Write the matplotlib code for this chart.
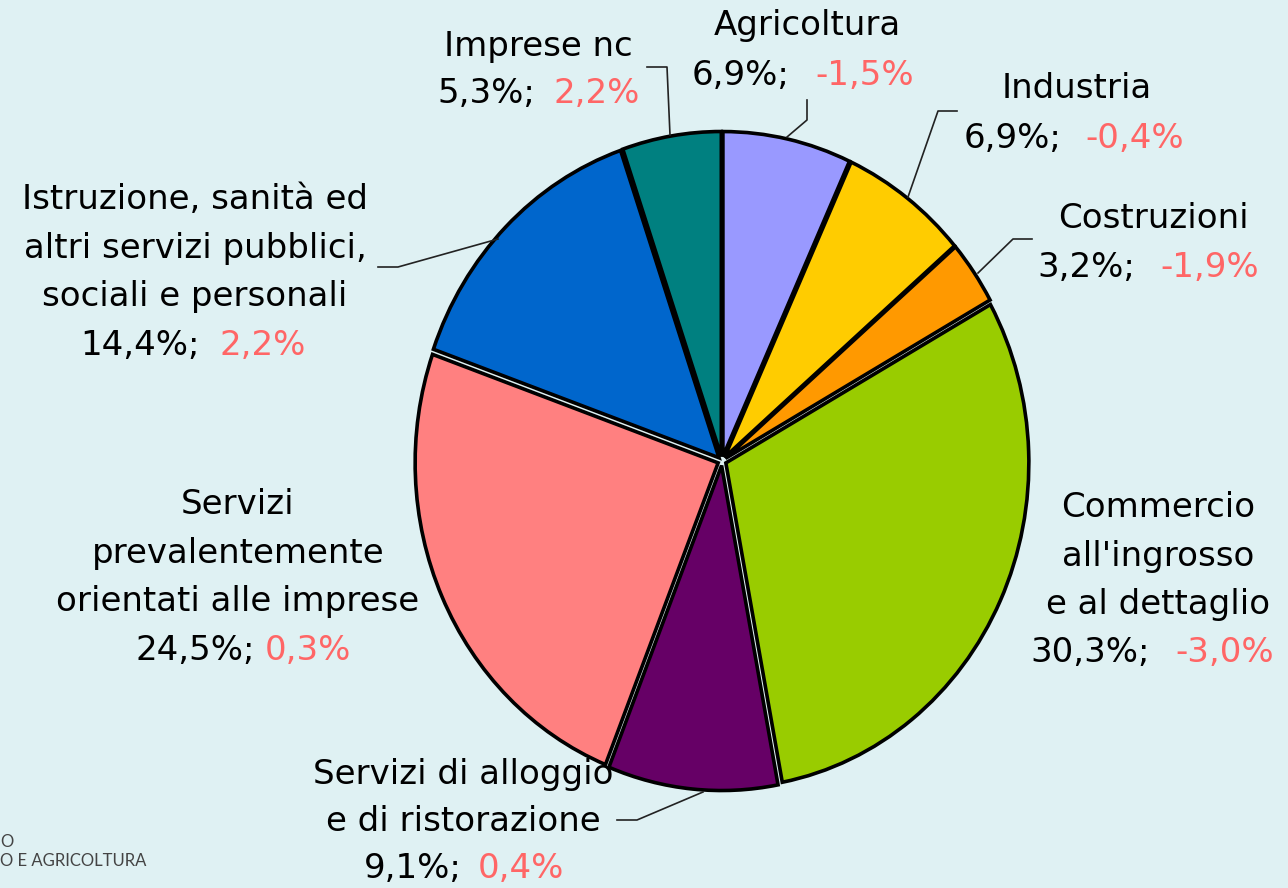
import matplotlib
matplotlib.use("Agg")
import matplotlib.pyplot as plt
from matplotlib.lines import Line2D

# ---- data ----
categories = ["Agricoltura", "Industria", "Costruzioni",
              "Commercio all'ingrosso e al dettaglio",
              "Servizi di alloggio e di ristorazione",
              "Servizi prevalentemente orientati alle imprese",
              "Istruzione, sanità ed altri servizi pubblici, sociali e personali",
              "Imprese nc"]
shares = [6.9, 6.9, 3.2, 30.3, 9.1, 24.5, 14.4, 5.3]
changes = ["-1,5%", "-0,4%", "-1,9%", "-3,0%", "0,4%", "0,3%", "2,2%", "2,2%"]
share_labels = ["6,9%;", "6,9%;", "3,2%;", "30,3%;", "9,1%;", "24,5%;", "14,4%;", "5,3%;"]
label_lines = [["Agricoltura"], ["Industria"], ["Costruzioni"],
               ["Commercio", "all'ingrosso", "e al dettaglio"],
               ["Servizi di alloggio", "e di ristorazione"],
               ["Servizi", "prevalentemente", "orientati alle imprese"],
               ["Istruzione, sanità ed", "altri servizi pubblici,", "sociali e personali"],
               ["Imprese nc"]]
colors = ["#9999FF", "#FFCC00", "#FF9900", "#99CC00", "#660066",
          "#FF8080", "#0066CC", "#008080"]

BG = "#DFF1F3"
RED = "#FF6666"
W, H = 1288, 888
fig = plt.figure(figsize=(W / 100, H / 100), dpi=100, facecolor=BG)
ax = fig.add_axes([0, 0, 1, 1])
ax.set_facecolor(BG)

cx, cy = 722, 461   # pie centre in pixels (from top)
rx, ry = 303, 325   # semi-axes in pixels

ax.pie(shares, colors=colors, startangle=90, counterclock=False,
       explode=[0.014] * len(shares),
       wedgeprops=dict(edgecolor="black", linewidth=2.6, joinstyle="miter"))
ax.set_aspect("auto")
ax.set_xlim(-cx / rx, (W - cx) / rx)
ax.set_ylim(-(H - cy) / ry, cy / ry)
ax.axis("off")

FS = 24.5
FONT = "DejaVu Sans"


def P(x, y):
    return x / W, 1 - y / H


# label layout: (centre x, first baseline y, line step, black-end x, red-start x)
layout = [
    (807, 35, 50, 790, 815),
    (1077, 98, 50, 1062, 1085),
    (1153, 228, 49, 1135, 1160),
    (1158, 517, 48.5, 1150, 1175),
    (463, 784, 47, 462, 478),
    (238, 514, 48.7, 255, 265),
    (195, 209, 48.7, 200, 220),
    (538, 56, 47, 535, 553),
]

for lines, sl, ch, (xc, y0, step, xb, xr) in zip(label_lines, share_labels, changes, layout):
    for i, t in enumerate(lines):
        fig.text(*P(xc, y0 + i * step), t, ha="center", va="baseline",
                 fontsize=FS, family=FONT, color="black")
    yl = y0 + len(lines) * step
    fig.text(*P(xb, yl), sl, ha="right", va="baseline", fontsize=FS,
             family=FONT, color="black")
    fig.text(*P(xr, yl), ch, ha="left", va="baseline", fontsize=FS,
             family=FONT, color=RED)

# leader lines (pixel coordinates)
leaders = [
    [(807, 100), (807, 120), (787, 137)],
    [(957, 111), (938, 111), (908, 197)],
    [(1032, 239), (1013, 239), (978, 273)],
    [(617, 820), (637, 820), (703, 792)],
    [(378, 267), (398, 267), (498, 239)],
    [(647, 67), (667, 67), (670, 135)],
]
for pts in leaders:
    xs = [p[0] / W for p in pts]
    ys = [1 - p[1] / H for p in pts]
    fig.add_artist(Line2D(xs, ys, color="#222222", linewidth=1.2,
                          transform=fig.transFigure))

# partial logo text at bottom-left
fig.text(*P(0, 847), "O", ha="left", va="baseline", fontsize=12,
         family="Lato", color="#444444")
fig.text(*P(0, 866), "O E AGRICOLTURA", ha="left", va="baseline",
         fontsize=12, family="Lato", color="#444444")

fig.savefig("out.png", dpi=100, facecolor=BG)
